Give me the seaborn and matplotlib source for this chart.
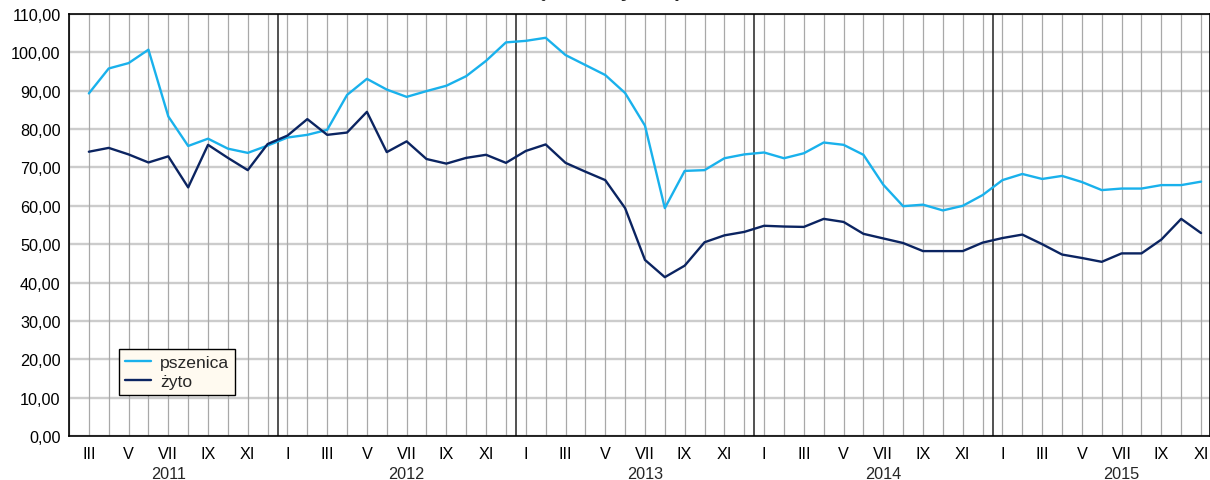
import seaborn as sns
import pandas as pd
import numpy as np
import matplotlib.pyplot as plt

# months III 2011 .. XI 2015
roman = ['I', 'II', 'III', 'IV', 'V', 'VI', 'VII', 'VIII', 'IX', 'X', 'XI', 'XII']
years = [2011, 2012, 2013, 2014, 2015]

pszenica = [89.3, 95.8, 97.2, 100.7, 83.3, 75.6, 77.5, 74.9, 73.8, 75.7,
            77.8, 78.5, 79.8, 88.9, 93.1, 90.3, 88.4, 89.9, 91.3, 93.8, 97.8, 102.6,
            103.0, 103.8, 99.3, 96.7, 94.1, 89.4, 80.9, 59.4, 69.1, 69.3, 72.4, 73.4,
            73.9, 72.4, 73.7, 76.5, 75.9, 73.3, 65.5, 59.9, 60.3, 58.8, 60.0, 62.8,
            66.7, 68.3, 67.0, 67.8, 66.2, 64.1, 64.5, 64.5, 65.4, 65.4, 66.3]
zyto = [74.1, 75.1, 73.4, 71.3, 72.9, 64.8, 75.9, 72.5, 69.3, 76.1,
        78.3, 82.6, 78.5, 79.1, 84.5, 74.0, 76.8, 72.2, 71.0, 72.5, 73.3, 71.2,
        74.3, 76.0, 71.2, 68.9, 66.7, 59.4, 45.9, 41.4, 44.4, 50.5, 52.3, 53.2,
        54.8, 54.6, 54.5, 56.6, 55.8, 52.7, 51.5, 50.3, 48.2, 48.2, 48.2, 50.4,
        51.6, 52.5, 50.0, 47.3, 46.4, 45.4, 47.6, 47.6, 51.2, 56.6, 52.9]

months = []
for y in years:
    for m in range(12):
        if (y == 2011 and m < 2) or (y == 2015 and m > 10):
            continue
        months.append((y, m))

n = len(months)
df = pd.DataFrame({
    'idx': list(range(n)) * 2,
    'cena': pszenica + zyto,
    'zboze': ['pszenica'] * n + ['żyto'] * n,
})

sns.set_style('white')
plt.rcParams['font.family'] = ['Liberation Sans', 'DejaVu Sans']

fig = plt.figure(figsize=(12.1, 4.81), dpi=100)
ax = fig.add_axes([69 / 1210, 1 - 437 / 481, 1141 / 1210, 422 / 481])

# grid
for v in range(0, 111, 10):
    ax.axhline(v, color='#cccccc', lw=1.7, zorder=0)
for i in range(-1, n + 1):
    ax.axvline(i, color='#a8a8a8', lw=0.9, zorder=0)
for i, (y, m) in enumerate(months):
    if m == 0 and i > 0:
        ax.axvline(i - 0.5, color='#222222', lw=1.1, zorder=1)

sns.lineplot(data=df, x='idx', y='cena', hue='zboze', hue_order=['pszenica', 'żyto'],
             palette=['#19b1ec', '#0b2461'], lw=1.7, ax=ax, zorder=3)

ax.set_xlim(-1, 56.45)
ax.set_ylim(0, 110)
ax.set_xlabel('')
ax.set_ylabel('')

yt = list(range(0, 111, 10))
ax.set_yticks(yt)
ax.set_yticklabels([f'{v:.2f}'.replace('.', ',') for v in yt], fontsize=11.7)
ax.tick_params(axis='y', length=0, pad=6, colors='black')

ax.set_xticks(range(n))
ax.set_xticklabels([roman[m] if m % 2 == 0 else '' for (y, m) in months], fontsize=11.7)
ax.tick_params(axis='x', direction='in', length=4, width=1, pad=7, colors='black')

for i, (y, m) in enumerate(months):
    if m == 6:
        ax.text(i, -0.088, str(y), transform=ax.get_xaxis_transform(),
                ha='center', va='center', fontsize=11.7)

for s in ax.spines.values():
    s.set_color('black')
    s.set_linewidth(1.2)
    s.set_visible(True)

handles, labels = ax.get_legend_handles_labels()
leg = ax.legend(handles, labels, loc='upper left',
                bbox_to_anchor=(119 / 1210, 1 - 350 / 481), bbox_transform=fig.transFigure,
                borderaxespad=0, fontsize=12.6, frameon=True, fancybox=False,
                facecolor='#fffaf0', edgecolor='black', framealpha=1,
                handlelength=1.5, handletextpad=0.5, labelspacing=0.2, borderpad=0.35)
leg.get_frame().set_linewidth(1)

# title sits above the top edge; only its descenders show, as in the source
fig.text(474 / 1210, 1 + 2.5 / 481, 'Przeciętne ceny skupu zbóż', fontsize=15,
         fontweight='bold', ha='left', va='baseline')

fig.savefig('out.png', dpi=100)
